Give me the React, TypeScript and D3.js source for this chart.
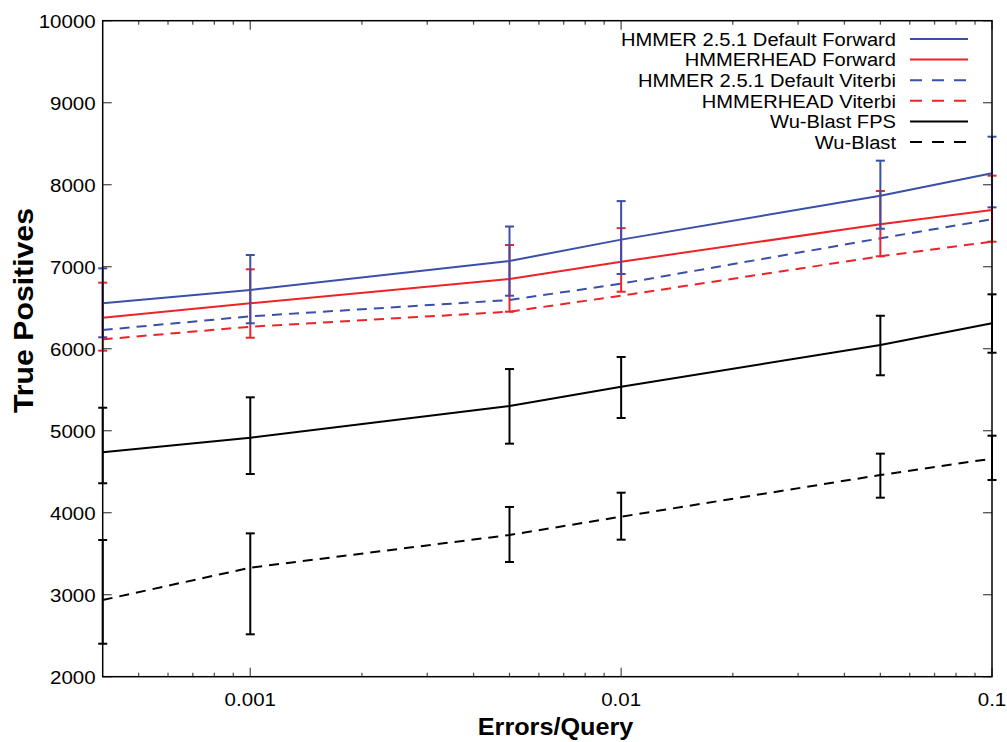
import React from 'react';
import { scaleLog, scaleLinear, line } from 'd3';

const width = 1007;
const height = 742;
const margin = { left: 102.7, right: 15, top: 20.7, bottom: 65.3 };

const errorsPerQuery = [0.0004, 0.001, 0.005, 0.01, 0.05, 0.1];
const yTickValues = [2000, 3000, 4000, 5000, 6000, 7000, 8000, 9000, 10000];
const xTickLabels = ['0.001', '0.01', '0.1'];

const hmmerForward = [6554, 6716, 7070, 7330, 7866, 8139];
const hmmerForwardLow = [6139, 6310, 6646, 6911, 7463, 7724];
const hmmerForwardHigh = [6980, 7143, 7490, 7800, 8293, 8585];

const headForward = [6378, 6554, 6850, 7061, 7517, 7691];
const headForwardLow = [5976, 6134, 6451, 6695, 7127, 7305];
const headForwardHigh = [6805, 6968, 7265, 7470, 7923, 8110];

const hmmerViterbi = [6228, 6395, 6594, 6793, 7346, 7578];
const headViterbi = [6114, 6268, 6451, 6646, 7127, 7305];

const wuFps = [4737, 4915, 5302, 5537, 6045, 6310];
const wuFpsLow = [4359, 4472, 4842, 5155, 5676, 5951];
const wuFpsHigh = [5280, 5407, 5752, 5899, 6402, 6663];

const wuBlast = [2935, 3329, 3728, 3951, 4460, 4659];
const wuBlastLow = [2402, 2517, 3399, 3671, 4183, 4399];
const wuBlastHigh = [3667, 3748, 4070, 4244, 4720, 4939];

const blue = '#3a50a8';
const red = '#ee2328';
const black = '#000';
const dash = '10,7';

const series = [
	{ name: 'HMMER 2.5.1 Default Forward', values: hmmerForward, color: blue, dashed: false },
	{ name: 'HMMERHEAD Forward', values: headForward, color: red, dashed: false },
	{ name: 'HMMER 2.5.1 Default Viterbi', values: hmmerViterbi, color: blue, dashed: true },
	{ name: 'HMMERHEAD Viterbi', values: headViterbi, color: red, dashed: true },
	{ name: 'Wu-Blast FPS', values: wuFps, color: black, dashed: false },
	{ name: 'Wu-Blast', values: wuBlast, color: black, dashed: true },
];

// drawn back to front: black first, blue last
const errorBars = [
	{ low: wuBlastLow, high: wuBlastHigh, color: black },
	{ low: wuFpsLow, high: wuFpsHigh, color: black },
	{ low: headForwardLow, high: headForwardHigh, color: red },
	{ low: hmmerForwardLow, high: hmmerForwardHigh, color: blue },
];

const font = '"Liberation Sans", Arial, Helvetica, sans-serif';
// the original text is a bit wider than Liberation Sans
const stretch = 1.06;

const App = () => {
	const x = scaleLog()
		.domain([0.0004, 0.1])
		.range([margin.left, width - margin.right]);
	const y = scaleLinear()
		.domain([2000, 10000])
		.range([height - margin.bottom, margin.top]);
	const [x0, x1] = x.range();
	const [y0, y1] = y.range();

	const xTicks = x.ticks().filter((t) => t > 0.0004);
	const isMajor = (t) => Math.abs(Math.log10(t) - Math.round(Math.log10(t))) < 1e-9;

	const path = (vals) =>
		line()
			.x((d, i) => x(errorsPerQuery[i]))
			.y((d) => y(d))(vals);

	const legendTop = 39;
	const legendStep = 20.6;

	return (
		<svg
			width={width}
			height={height}
			style={{ position: 'absolute', left: 0, top: 0, background: '#fff' }}
			fontFamily={font}
		>
			<rect x={0} y={0} width={width} height={height} fill="#fff" />

			{/* ticks */}
			<g stroke="#555" strokeWidth={1.3}>
				{xTicks.map((t) => {
					const len = isMajor(t) ? 9 : 4;
					return (
						<g key={t}>
							<line x1={x(t)} x2={x(t)} y1={y0} y2={y0 - len} />
							<line x1={x(t)} x2={x(t)} y1={y1} y2={y1 + len} />
						</g>
					);
				})}
				{yTickValues.map((t) => (
					<g key={t}>
						<line x1={x0} x2={x0 + 9} y1={y(t)} y2={y(t)} />
						<line x1={x1} x2={x1 - 9} y1={y(t)} y2={y(t)} />
					</g>
				))}
			</g>

			{/* tick labels */}
			<g fontSize={19} fill="#000">
				{yTickValues.map((t) => (
					<text
						key={t}
						transform={`translate(${x0 - 7},${y(t)}) scale(1.08,1)`}
						dy="0.36em"
						textAnchor="end"
					>
						{t}
					</text>
				))}
				{xTickLabels.map((t) => (
					<text
						key={t}
						transform={`translate(${x(+t)},${y0 + 29}) scale(1.08,1)`}
						textAnchor="middle"
					>
						{t}
					</text>
				))}
			</g>

			{/* series lines */}
			{series
				.slice()
				.reverse()
				.map((s) => (
					<path
						key={s.name}
						d={path(s.values)}
						fill="none"
						stroke={s.color}
						strokeWidth={2}
						strokeDasharray={s.dashed ? dash : null}
					/>
				))}

			{/* error bars */}
			{errorBars.map((e, k) => (
				<g key={k} stroke={e.color} strokeWidth={2}>
					{errorsPerQuery.map((q, i) => (
						<g key={q}>
							<line x1={x(q)} x2={x(q)} y1={y(e.low[i])} y2={y(e.high[i])} />
							<line x1={x(q) - 4.5} x2={x(q) + 4.5} y1={y(e.low[i])} y2={y(e.low[i])} />
							<line x1={x(q) - 4.5} x2={x(q) + 4.5} y1={y(e.high[i])} y2={y(e.high[i])} />
						</g>
					))}
				</g>
			))}

			{/* frame */}
			<rect x={x0} y={y1} width={x1 - x0} height={y0 - y1} fill="none" stroke="#000" strokeWidth={1.5} />

			{/* legend */}
			<g fontSize={19}>
				{series.map((s, i) => {
					const ly = legendTop + i * legendStep;
					return (
						<g key={s.name}>
							<text
								transform={`translate(896,${ly}) scale(${stretch},1)`}
								dy="0.36em"
								textAnchor="end"
								fill="#000"
							>
								{s.name}
							</text>
							<line
								x1={910}
								x2={968}
								y1={ly}
								y2={ly}
								stroke={s.color}
								strokeWidth={2}
								strokeDasharray={s.dashed ? '12,10' : null}
							/>
						</g>
					);
				})}
			</g>

			{/* axis titles */}
			<text
				transform={`translate(555.5,735) scale(1.05,1)`}
				textAnchor="middle"
				fontSize={24}
				fontWeight="bold"
			>
				Errors/Query
			</text>
			<text
				transform={`translate(33,310.5) rotate(-90) scale(1.12,1)`}
				textAnchor="middle"
				fontSize={27}
				fontWeight="bold"
			>
				True Positives
			</text>
		</svg>
	);
};

export default App;
